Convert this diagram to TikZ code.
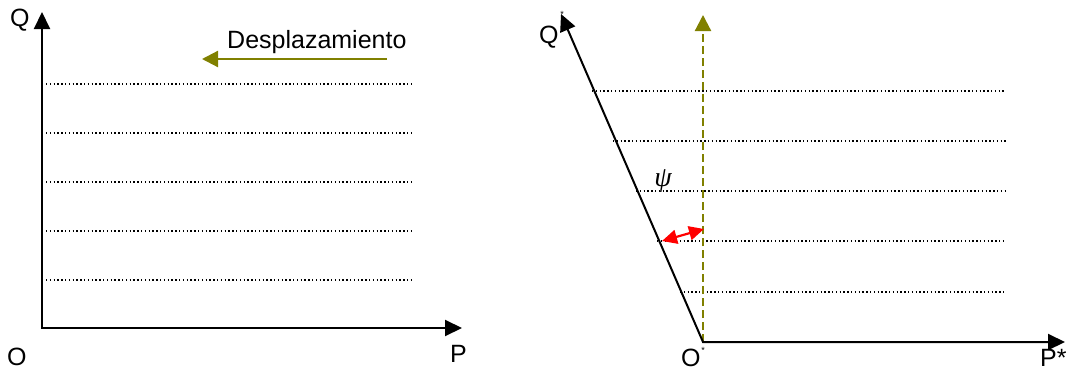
\documentclass[tikz,border=0pt]{standalone}
\usepackage{fontspec}
\setmainfont{Liberation Sans}
\newfontfamily\seriffont{Liberation Serif}
\usetikzlibrary{arrows.meta}
\definecolor{olivearrow}{RGB}{128,128,0}
\begin{document}
\begin{tikzpicture}[x=1pt,y=-1pt,
  axis/.style={line width=2pt,line join=miter,{Triangle[length=17pt,width=16pt]}-{Triangle[length=17pt,width=16pt]}},
  guide/.style={line width=1.3pt,dash pattern=on 1.3pt off 2.5pt,black},
  shiftarrow/.style={olivearrow,line width=2.2pt,-{Triangle[length=16pt,width=16pt]}},
  lbl/.style={font=\fontsize{25}{29}\selectfont,inner sep=0pt,anchor=base west},
  small/.style={font=\fontsize{9}{9}\selectfont,inner sep=0pt},
  ]
\useasboundingbox (0,0) rectangle (1067,372);
% ---------- left diagram ----------
\coordinate (O1) at (42,328);
\coordinate (Q1) at (42,12);
\coordinate (P1) at (462,328);
\foreach \y in {84,133,182,231,280}
  \draw[guide] (46,\y) -- (412,\y);
\draw[axis] (Q1) -- (O1) -- (P1);
\node[lbl] (Qa) at (10,27) {Q};
\node[lbl] (Oa) at (7,365) {O};
\node[lbl] (Pa) at (450,362) {P};
\node[lbl] (desp) at (227,48) {Desplazamiento};
\coordinate (s1) at (387,59);
\coordinate (s2) at (202,59);
\draw[shiftarrow] (s1) -- (s2);
% ---------- right diagram ----------
\coordinate (O2) at (703,342);
\coordinate (Q2) at (561,14);
\coordinate (P2) at (1065,342);
\coordinate (V2) at (703,15);
\foreach \y/\x in {91/592,141/613,191/636,241/657,292/680}
  \draw[guide] (\x,\y) -- (1006,\y);
\node[small] (qstar) at (562,14) {*};
\draw[olivearrow,line width=2.2pt,dash pattern=on 8pt off 4pt,-{Triangle[length=16pt,width=16pt]}] (O2) -- (V2);
\draw[axis] (Q2) -- (O2) -- (P2);
\coordinate (r1) at (662,241);
\coordinate (r2) at (704,229);
\draw[red,line width=2.2pt,{Triangle[length=15pt,width=14pt]}-{Triangle[length=15pt,width=14pt]}] (r1) -- (r2);
\node[inner sep=0pt,font=\fontsize{28}{32}\seriffont\itshape] (psi) at (663,181) {ψ};
\node[lbl] (Qb) at (539,43) {Q};
\node[lbl] (Ob) at (681,366) {O};
\node[small] (ostar) at (703,350) {*};
\node[lbl] (Pb) at (1040,366) {P*};
\end{tikzpicture}
\end{document}
